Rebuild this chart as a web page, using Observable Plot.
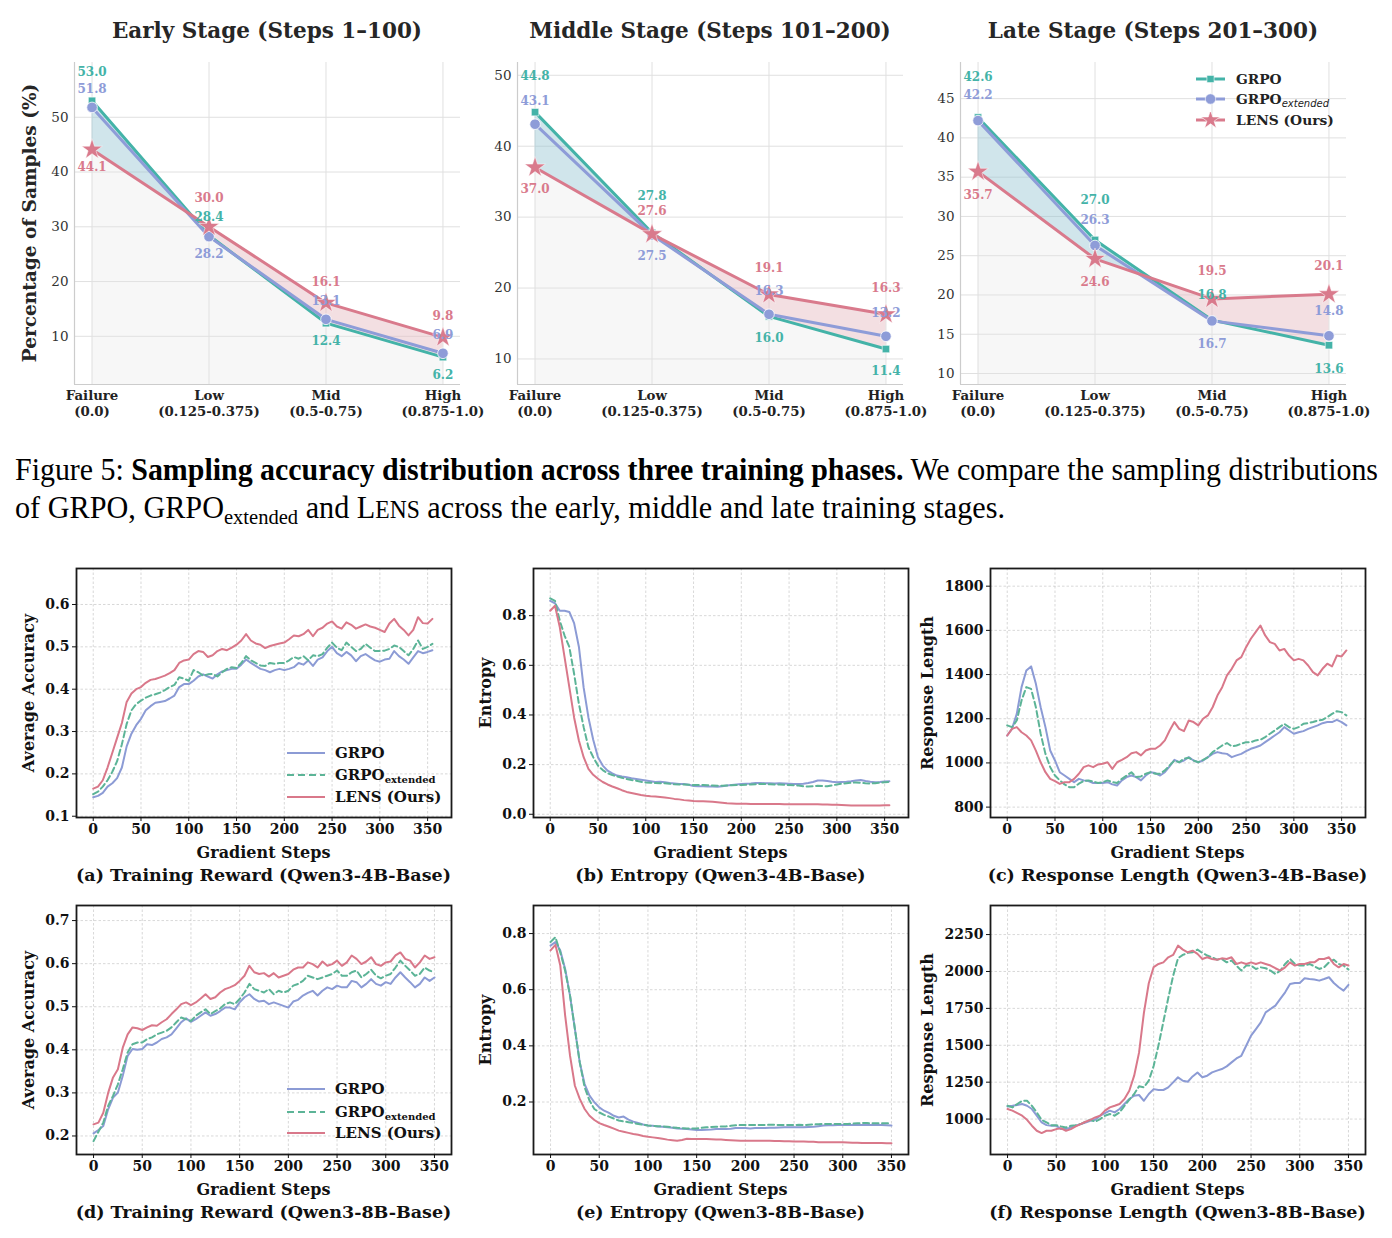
<!DOCTYPE html>
<html><head><meta charset="utf-8">
<script src="https://cdn.jsdelivr.net/npm/d3@7"></script>
<script src="https://cdn.jsdelivr.net/npm/@observablehq/plot@0.6"></script>
<style>
html,body{margin:0;padding:0;background:#fff;}
#root{position:relative;width:1392px;height:1238px;overflow:hidden;background:#fff;font-family:"DejaVu Serif",serif;}
.abs{position:absolute;white-space:nowrap;}
</style></head><body><div id="root"></div>
<script>
// ---------------- DATA ----------------
const stageCategories = ["Failure\n(0.0)", "Low\n(0.125-0.375)", "Mid\n(0.5-0.75)", "High\n(0.875-1.0)"];
const stageTitles = ["Early Stage (Steps 1–100)", "Middle Stage (Steps 101–200)", "Late Stage (Steps 201–300)"];
const earlyGrpo = [53.0, 28.4, 12.4, 6.2];
const earlyExt = [51.8, 28.2, 13.1, 6.9];
const earlyLens = [44.1, 30.0, 16.1, 9.8];
const middleGrpo = [44.8, 27.8, 16.0, 11.4];
const middleExt = [43.1, 27.5, 16.3, 13.2];
const middleLens = [37.0, 27.6, 19.1, 16.3];
const lateGrpo = [42.6, 27.0, 16.8, 13.6];
const lateExt = [42.2, 26.3, 16.7, 14.8];
const lateLens = [35.7, 24.6, 19.5, 20.1];
const earlyTicks = [10, 20, 30, 40, 50];
const middleTicks = [10, 20, 30, 40, 50];
const lateTicks = [10, 15, 20, 25, 30, 35, 40, 45];

const steps4B = [0,5,10,15,20,25,30,35,40,45,50,55,60,65,70,75,80,85,90,95,100,105,110,115,120,125,130,135,140,145,150,155,160,165,170,175,180,185,190,195,200,205,210,215,220,225,230,235,240,245,250,255,260,265,270,275,280,285,290,295,300,305,310,315,320,325,330,335,340,345,350,355];
const steps8B = [0,5,10,15,20,25,30,35,40,45,50,55,60,65,70,75,80,85,90,95,100,105,110,115,120,125,130,135,140,145,150,155,160,165,170,175,180,185,190,195,200,205,210,215,220,225,230,235,240,245,250,255,260,265,270,275,280,285,290,295,300,305,310,315,320,325,330,335,340,345,350];
const stepTicks = [0, 50, 100, 150, 200, 250, 300, 350];

// (a) Training reward, Qwen3-4B-Base
const reward4BGrpo = [0.145,0.148,0.155,0.170,0.178,0.190,0.215,0.265,0.295,0.315, 0.330,0.350,0.360,0.368,0.370,0.372,0.378,0.385,0.405,0.412, 0.412,0.420,0.430,0.435,0.430,0.425,0.435,0.442,0.445,0.448, 0.448,0.458,0.470,0.462,0.455,0.448,0.445,0.440,0.445,0.448, 0.445,0.448,0.452,0.462,0.458,0.468,0.455,0.470,0.475,0.490, 0.500,0.485,0.478,0.488,0.480,0.466,0.478,0.483,0.475,0.468, 0.465,0.470,0.472,0.490,0.478,0.470,0.460,0.475,0.490,0.485, 0.488,0.492];
const reward4BExt = [0.152,0.158,0.170,0.185,0.205,0.230,0.270,0.318,0.350,0.365, 0.373,0.380,0.385,0.388,0.392,0.398,0.405,0.410,0.428,0.425, 0.420,0.445,0.440,0.432,0.435,0.436,0.430,0.440,0.448,0.452, 0.450,0.462,0.478,0.468,0.462,0.456,0.455,0.462,0.460,0.462, 0.462,0.468,0.476,0.472,0.478,0.468,0.480,0.478,0.483,0.498, 0.510,0.498,0.492,0.510,0.500,0.490,0.495,0.507,0.498,0.490, 0.490,0.491,0.495,0.503,0.500,0.490,0.480,0.495,0.515,0.495, 0.500,0.507];
const reward4BLens = [0.165,0.170,0.185,0.215,0.250,0.285,0.320,0.370,0.390,0.400, 0.405,0.415,0.422,0.424,0.428,0.432,0.438,0.445,0.462,0.468, 0.470,0.483,0.490,0.488,0.476,0.480,0.490,0.495,0.492,0.498, 0.505,0.515,0.530,0.515,0.508,0.505,0.497,0.502,0.505,0.508, 0.510,0.518,0.527,0.525,0.530,0.540,0.525,0.540,0.545,0.555, 0.560,0.548,0.543,0.558,0.552,0.543,0.548,0.553,0.548,0.545, 0.540,0.535,0.555,0.566,0.550,0.540,0.527,0.540,0.570,0.556, 0.555,0.566];

// (b) Entropy, Qwen3-4B-Base
const entropy4BGrpo = [0.860,0.850,0.820,0.820,0.815,0.770,0.675,0.510,0.390,0.300, 0.230,0.196,0.176,0.165,0.156,0.152,0.149,0.145,0.142,0.139, 0.136,0.133,0.130,0.131,0.129,0.126,0.124,0.122,0.122,0.119, 0.114,0.113,0.113,0.112,0.112,0.111,0.113,0.116,0.118,0.120, 0.122,0.123,0.124,0.126,0.126,0.125,0.125,0.124,0.125,0.124, 0.123,0.122,0.122,0.123,0.126,0.130,0.136,0.136,0.134,0.131, 0.129,0.130,0.131,0.133,0.136,0.138,0.134,0.131,0.129,0.130, 0.132,0.133];
const entropy4BExt = [0.870,0.860,0.780,0.720,0.674,0.566,0.445,0.351,0.270,0.230, 0.196,0.178,0.165,0.158,0.152,0.147,0.142,0.138,0.135,0.131, 0.128,0.127,0.126,0.125,0.125,0.123,0.121,0.120,0.120,0.119, 0.118,0.118,0.118,0.117,0.116,0.115,0.115,0.116,0.117,0.118, 0.118,0.119,0.120,0.121,0.122,0.122,0.121,0.120,0.120,0.119, 0.118,0.117,0.116,0.113,0.112,0.113,0.115,0.114,0.113,0.116, 0.120,0.123,0.125,0.127,0.128,0.127,0.125,0.124,0.125,0.127, 0.129,0.130];
const entropy4BLens = [0.820,0.840,0.754,0.633,0.512,0.390,0.297,0.230,0.183,0.159, 0.143,0.130,0.120,0.112,0.105,0.097,0.090,0.086,0.082,0.078, 0.075,0.073,0.072,0.070,0.068,0.065,0.062,0.060,0.057,0.055, 0.053,0.052,0.052,0.051,0.050,0.048,0.046,0.044,0.043,0.042, 0.042,0.042,0.041,0.041,0.041,0.041,0.041,0.041,0.041,0.040, 0.040,0.040,0.040,0.040,0.040,0.040,0.040,0.039,0.039,0.038, 0.038,0.037,0.036,0.035,0.035,0.035,0.035,0.035,0.035,0.035, 0.036,0.036];

// (c) Response length, Qwen3-4B-Base
const length4BGrpo = [1124,1154,1222,1343,1418,1437,1358,1252,1162,1056, 1011,958,943,928,913,928,921,918,909,909, 909,913,903,898,921,936,943,936,921,943, 958,954,943,958,984,1014,1003,1011,1026,1011, 1003,1011,1026,1041,1049,1044,1041,1026,1034,1041, 1053,1064,1071,1079,1094,1109,1124,1139,1162,1147, 1132,1139,1144,1154,1162,1170,1180,1185,1185,1195, 1185,1170];
const length4BExt = [1170,1162,1192,1283,1343,1335,1252,1132,1041,981, 943,921,903,890,890,906,918,921,916,909, 913,921,913,909,928,943,958,936,939,951, 958,951,951,966,989,1011,1003,1019,1023,1011, 1003,1014,1026,1049,1064,1079,1090,1075,1079,1087, 1094,1094,1102,1105,1117,1132,1147,1162,1177,1162, 1154,1162,1177,1180,1185,1192,1195,1207,1222,1234, 1230,1215];
const length4BLens = [1124,1154,1162,1139,1124,1102,1056,1003,958,928, 918,905,913,913,928,951,981,989,981,993, 996,1003,973,1003,1014,1026,1044,1049,1034,1056, 1064,1064,1079,1102,1147,1185,1154,1144,1192,1185, 1170,1200,1215,1252,1305,1343,1396,1426,1464,1479, 1524,1562,1592,1622,1577,1547,1539,1509,1516,1486, 1464,1471,1464,1441,1411,1396,1426,1449,1437,1486, 1482,1509];

// (d) Training reward, Qwen3-8B-Base
const reward8BGrpo = [0.206,0.214,0.223,0.262,0.289,0.301,0.340,0.386,0.402,0.400, 0.402,0.413,0.411,0.417,0.425,0.429,0.436,0.450,0.464,0.473, 0.465,0.471,0.479,0.487,0.479,0.483,0.490,0.498,0.498,0.494, 0.510,0.522,0.529,0.518,0.512,0.514,0.506,0.510,0.506,0.502, 0.498,0.512,0.516,0.526,0.532,0.537,0.526,0.537,0.545,0.541, 0.549,0.545,0.545,0.560,0.557,0.545,0.553,0.564,0.553,0.549, 0.557,0.553,0.568,0.580,0.568,0.557,0.545,0.553,0.568,0.560, 0.568];
const reward8BExt = [0.188,0.210,0.231,0.270,0.293,0.320,0.355,0.394,0.413,0.417, 0.417,0.425,0.429,0.436,0.440,0.444,0.452,0.464,0.475,0.471, 0.467,0.479,0.487,0.494,0.483,0.490,0.496,0.506,0.510,0.506, 0.518,0.533,0.553,0.541,0.537,0.533,0.541,0.529,0.537,0.533, 0.537,0.549,0.553,0.560,0.572,0.568,0.564,0.568,0.572,0.576, 0.584,0.572,0.572,0.580,0.584,0.568,0.576,0.586,0.572,0.566, 0.572,0.576,0.591,0.607,0.595,0.584,0.572,0.576,0.591,0.584, 0.580];
const reward8BLens = [0.227,0.231,0.254,0.300,0.336,0.355,0.405,0.436,0.452,0.450, 0.446,0.452,0.457,0.456,0.464,0.471,0.483,0.494,0.506,0.510, 0.504,0.510,0.519,0.529,0.518,0.522,0.533,0.541,0.545,0.550, 0.560,0.572,0.595,0.580,0.576,0.578,0.570,0.578,0.568,0.572, 0.576,0.586,0.591,0.591,0.603,0.599,0.591,0.605,0.595,0.599, 0.607,0.595,0.603,0.619,0.611,0.599,0.605,0.615,0.599,0.595, 0.603,0.605,0.619,0.626,0.611,0.607,0.591,0.603,0.619,0.611, 0.615];

// (e) Entropy, Qwen3-8B-Base
const entropy8BGrpo = [0.757,0.770,0.740,0.674,0.579,0.460,0.341,0.264,0.223,0.199, 0.181,0.169,0.161,0.151,0.145,0.148,0.137,0.130,0.125,0.120, 0.116,0.115,0.113,0.112,0.110,0.108,0.106,0.105,0.104,0.102, 0.100,0.100,0.101,0.102,0.104,0.104,0.104,0.105,0.107,0.107, 0.107,0.106,0.107,0.107,0.107,0.108,0.108,0.109,0.110,0.110, 0.110,0.110,0.110,0.111,0.112,0.114,0.116,0.117,0.117,0.118, 0.118,0.118,0.118,0.118,0.118,0.118,0.118,0.118,0.118,0.117, 0.116];
const entropy8BExt = [0.770,0.787,0.733,0.668,0.579,0.460,0.341,0.252,0.205,0.175, 0.163,0.154,0.148,0.141,0.134,0.131,0.128,0.125,0.122,0.119, 0.116,0.115,0.114,0.113,0.112,0.110,0.108,0.107,0.106,0.106, 0.106,0.108,0.110,0.111,0.112,0.113,0.113,0.115,0.117,0.118, 0.118,0.118,0.118,0.118,0.118,0.119,0.119,0.118,0.118,0.118, 0.118,0.119,0.118,0.119,0.120,0.121,0.122,0.122,0.122,0.122, 0.122,0.122,0.123,0.124,0.125,0.125,0.124,0.124,0.124,0.124, 0.124];
const entropy8BLens = [0.740,0.760,0.686,0.508,0.365,0.258,0.211,0.175,0.151,0.136, 0.125,0.118,0.112,0.105,0.098,0.094,0.090,0.086,0.083,0.079, 0.076,0.074,0.072,0.069,0.066,0.064,0.062,0.065,0.069,0.068, 0.068,0.068,0.068,0.067,0.066,0.066,0.065,0.064,0.063,0.062, 0.062,0.062,0.062,0.062,0.062,0.062,0.061,0.061,0.060,0.060, 0.059,0.059,0.059,0.058,0.058,0.057,0.057,0.057,0.057,0.057, 0.057,0.056,0.055,0.055,0.054,0.054,0.054,0.054,0.054,0.053, 0.053];

// (f) Response length, Qwen3-8B-Base
const length8BGrpo = [1086,1090,1095,1102,1090,1068,1023,977,959,955, 955,932,932,943,955,966,977,989,995,1023, 1041,1057,1045,1068,1102,1136,1158,1163,1124,1170, 1203,1197,1197,1215,1249,1283,1260,1253,1289,1316, 1283,1294,1316,1328,1339,1357,1384,1411,1429,1497, 1565,1610,1655,1723,1746,1769,1814,1859,1915,1922, 1922,1954,1949,1945,1938,1949,1961,1922,1893,1870, 1909];
const length8BExt = [1090,1079,1102,1124,1124,1090,1045,995,977,959, 959,950,943,955,959,966,982,995,982,1000, 1023,1034,1023,1045,1090,1131,1170,1222,1215,1260, 1360,1500,1660,1820,1970,2090,2112,2126,2130,2148, 2126,2108,2096,2080,2085,2062,2074,2040,2006,2040, 2040,2017,2028,2022,2006,1983,2006,2051,2085,2051, 2040,2040,2051,2035,2017,2028,2062,2080,2051,2040, 2013];
const length8BLens = [1068,1057,1041,1023,995,955,921,905,921,921, 932,937,921,932,950,966,982,995,1011,1023, 1057,1079,1090,1102,1136,1192,1294,1450,1720,1920, 2030,2051,2062,2096,2112,2175,2148,2130,2141,2119, 2085,2096,2085,2080,2089,2085,2096,2051,2062,2051, 2062,2051,2062,2051,2040,2022,2006,2028,2062,2040, 2051,2051,2062,2062,2085,2085,2096,2051,2028,2051, 2040];

// ---------------- STYLE ----------------
const C = {grpo: "#44b3a8", ext: "#8e9cd8", lens: "#d97a8c"};
const T = {grpo: "#8c9bd5", ext: "#5cb497", lens: "#d9788a"};
const SERIF = "'DejaVu Serif', serif";
const root = document.getElementById("root");

function addText(html, x, y, style, mode) {
  const d = document.createElement("div");
  d.className = "abs";
  d.innerHTML = html;
  d.style.left = x + "px"; d.style.top = y + "px";
  Object.assign(d.style, style || {});
  if (mode === "center") d.style.transform = "translate(-50%,-50%)";
  else if (mode === "rot") d.style.transform = "translate(-50%,-50%) rotate(-90deg)";
  else if (mode === "left") d.style.transform = "translate(0,-50%)";
  root.appendChild(d);
  return d;
}
function place(svg, x, y) {
  svg.style.position = "absolute";
  svg.style.left = x + "px";
  svg.style.top = y + "px";
  root.appendChild(svg);
}

// ---------------- TOP: stage panels ----------------
const stageLefts = [74, 517, 960];
function stagePlot(k, grpo, ext, lens, yTicks) {
  const ML = 70, MT = 10, MR = 45, MB = 50, W = 386, H = 322;
  const all = grpo.concat(ext, lens);
  const y0 = d3.min(all) - 5, y1 = d3.max(all) + 7;
  const idx = [0, 1, 2, 3];
  const pts = idx.map(i => ({x: i, g: grpo[i], e: ext[i], l: lens[i]}));
  const aug = [];
  for (let i = 0; i < 4; i++) {
    aug.push({x: i, g: grpo[i], l: lens[i]});
    if (i < 3) {
      const d0 = grpo[i] - lens[i], d1 = grpo[i + 1] - lens[i + 1];
      if (d0 * d1 < 0) {
        const t = d0 / (d0 - d1);
        const yv = lens[i] + t * (lens[i + 1] - lens[i]);
        aug.push({x: i + t, g: yv, l: yv});
      }
    }
  }
  const labels = [];
  idx.forEach(i => {
    const s = [{v: grpo[i], c: C.grpo}, {v: ext[i], c: C.ext}, {v: lens[i], c: C.lens}].sort((a, b) => b.v - a.v);
    labels.push({x: i, y: s[0].v + (s[0].v - s[1].v < 2 ? 4.6 : 3.1), t: s[0].v, c: s[0].c, a: "bottom"});
    labels.push({x: i, y: s[1].v + 2.7, t: s[1].v, c: s[1].c, a: "bottom"});
    labels.push({x: i, y: s[2].v - 2.4, t: s[2].v, c: s[2].c, a: "top"});
  });
  const svg = Plot.plot({
    width: W + ML + MR, height: H + MT + MB,
    marginLeft: ML, marginRight: MR, marginTop: MT, marginBottom: MB,
    style: {background: "transparent", fontFamily: SERIF, color: "#333", overflow: "visible"},
    x: {domain: [-0.15, 3.15]},
    y: {domain: [y0, y1]},
    color: {type: "identity"},
    marks: [
      Plot.gridY(yTicks, {stroke: "#e0e0e0", strokeOpacity: 1, strokeWidth: 1}),
      Plot.gridX(idx, {stroke: "#e0e0e0", strokeOpacity: 1, strokeWidth: 1}),
      Plot.areaY(pts, {x: "x", y1: () => y0, y2: "l", fill: "#e4e4e6", fillOpacity: 0.3}),
      Plot.areaY(aug, {x: "x", y1: "l", y2: d => Math.max(d.g, d.l), fill: "#8fc0d0", fillOpacity: 0.42}),
      Plot.areaY(aug, {x: "x", y1: "g", y2: d => Math.max(d.g, d.l), fill: "#e8a0ae", fillOpacity: 0.28}),
      Plot.ruleX([-0.15], {stroke: "#cccccc", strokeWidth: 1.2}),
      Plot.ruleY([y0], {stroke: "#cccccc", strokeWidth: 1.2}),
      Plot.line(pts, {x: "x", y: "g", stroke: C.grpo, strokeWidth: 3}),
      Plot.dot(pts, {x: "x", y: "g", symbol: "square", r: 4.2, fill: C.grpo, stroke: "white", strokeWidth: 0.6}),
      Plot.line(pts, {x: "x", y: "e", stroke: C.ext, strokeWidth: 3}),
      Plot.dot(pts, {x: "x", y: "e", symbol: "circle", r: 5.3, fill: C.ext, stroke: "white", strokeWidth: 0.8}),
      Plot.line(pts, {x: "x", y: "l", stroke: C.lens, strokeWidth: 3}),
      Plot.dot(pts, {x: "x", y: "l", symbol: "star", r: 6.5, fill: C.lens, stroke: "white", strokeWidth: 0.5}),
      Plot.text(labels.filter(d => d.a === "bottom"), {x: "x", y: "y", text: d => d.t.toFixed(1), fill: "c", lineAnchor: "bottom", fontSize: 12, fontWeight: "bold"}),
      Plot.text(labels.filter(d => d.a === "top"), {x: "x", y: "y", text: d => d.t.toFixed(1), fill: "c", lineAnchor: "top", fontSize: 12, fontWeight: "bold"}),
      Plot.axisY(yTicks, {tickSize: 0, tickPadding: 6, fontSize: 13.5, fill: "#333", label: null}),
      Plot.axisX(idx, {tickSize: 0, tickPadding: 5, fontSize: 13.3, fontWeight: "bold", fill: "#222", label: null, lineHeight: 1.15, tickFormat: i => stageCategories[i]})
    ]
  });
  place(svg, stageLefts[k] - ML, 62 - MT);
  addText(stageTitles[k], stageLefts[k] + W / 2, 30, {font: "bold 21.5px " + SERIF, color: "#262626"}, "center");
}
stagePlot(0, earlyGrpo, earlyExt, earlyLens, earlyTicks);
stagePlot(1, middleGrpo, middleExt, middleLens, middleTicks);
stagePlot(2, lateGrpo, lateExt, lateLens, lateTicks);
addText("Percentage of Samples (%)", 29, 223, {font: "bold 18.5px " + SERIF, color: "#262626"}, "rot");

// top legend
function topSwatch(color, sym, size) {
  const p = d3.symbol(sym, size)();
  return `<svg width="31" height="16" style="display:block"><line x1="1" y1="8" x2="30" y2="8" stroke="${color}" stroke-width="3"/><path transform="translate(15.5,8)" d="${p}" fill="${color}" stroke="white" stroke-width="0.6"/></svg>`;
}
const topLeg = [
  {sw: topSwatch(C.grpo, d3.symbolSquare, 52), txt: "GRPO", y: 79},
  {sw: topSwatch(C.ext, d3.symbolCircle, 85), txt: 'GRPO<span style="font:italic 10px \'DejaVu Sans\',sans-serif;position:relative;top:3px">extended</span>', y: 99},
  {sw: topSwatch(C.lens, d3.symbolStar, 110), txt: "LENS (Ours)", y: 120}
];
topLeg.forEach(d => {
  addText(d.sw, 1195, d.y, {}, "left");
  addText(d.txt, 1236, d.y, {font: "bold 13.8px " + SERIF, color: "#222"}, "left");
});

// ---------------- CAPTION ----------------
const cap1 = addText('Figure 5: <b>Sampling accuracy distribution across three training phases.</b> We compare the sampling distributions', 15, 454, {font: "31px 'Liberation Serif', serif", lineHeight: "31px", color: "#000", transformOrigin: "0 0"});
const cap2 = addText('of GRPO, GRPO<span style="font-size:0.68em;position:relative;top:0.28em">extended</span> and L<span style="font-size:0.78em">ENS</span> across the early, middle and late training stages.', 15, 492, {font: "31px 'Liberation Serif', serif", lineHeight: "31px", color: "#000", transformOrigin: "0 0"});
cap1.style.transform = `scaleX(${1363 / cap1.getBoundingClientRect().width})`;
cap2.style.transform = `scaleX(${990 / cap2.getBoundingClientRect().width})`;

// ---------------- BOTTOM: time series ----------------
function tsPlot(p) {
  const ML = 72, MT = 10, MR = 16, MB = 34;
  const W = p.r - p.l, H = p.b - p.t;
  const mk = ys => p.steps.map((x, i) => ({x, y: ys[i]})).filter(d => d.y != null);
  const grid = {stroke: "#b5b5b5", strokeOpacity: 0.75, strokeDasharray: "2.5,2", strokeWidth: 0.7};
  const svg = Plot.plot({
    width: W + ML + MR, height: H + MT + MB,
    marginLeft: ML, marginRight: MR, marginTop: MT, marginBottom: MB,
    style: {background: "transparent", fontFamily: SERIF, color: "#111", overflow: "visible"},
    x: {domain: p.xDomain},
    y: {domain: p.yDomain},
    marks: [
      Plot.gridX(stepTicks, grid),
      Plot.gridY(p.yTicks, grid),
      Plot.line(mk(p.grpo), {x: "x", y: "y", stroke: T.grpo, strokeWidth: 2, strokeLinejoin: "round"}),
      Plot.line(mk(p.ext), {x: "x", y: "y", stroke: T.ext, strokeWidth: 2, strokeDasharray: "6,3.5"}),
      Plot.line(mk(p.lens), {x: "x", y: "y", stroke: T.lens, strokeWidth: 2, strokeLinejoin: "round"}),
      Plot.frame({stroke: "#1a1a1a", strokeWidth: 1.8}),
      Plot.axisX(stepTicks, {tickSize: 4, tickPadding: 3, fontSize: 14, fontWeight: "bold", label: null, tickFormat: d => String(d)}),
      Plot.axisY(p.yTicks, {tickSize: 4, tickPadding: 3, fontSize: 14, fontWeight: "bold", label: null, tickFormat: p.fmt})
    ]
  });
  place(svg, p.l - ML, p.t - MT);
  const cx = (p.l + p.r) / 2;
  addText(p.ylabel, p.ylx, (p.t + p.b) / 2, {font: "bold 16px " + SERIF, color: "#111"}, "rot");
  addText("Gradient Steps", cx, p.b + 35, {font: "bold 16px " + SERIF, color: "#111"}, "center");
  addText(p.caption, cx, p.b + 58, {font: "bold 17.5px " + SERIF, color: "#111"}, "center");
}
const f1 = d => d.toFixed(1), fi = d => String(d);
tsPlot({l: 76, r: 451, t: 568, b: 817, steps: steps4B, xDomain: [-17.5, 375], yDomain: [0.097, 0.685], yTicks: [0.1, 0.2, 0.3, 0.4, 0.5, 0.6], fmt: f1,
  grpo: reward4BGrpo, ext: reward4BExt, lens: reward4BLens, ylabel: "Average Accuracy", ylx: 28, caption: "(a) Training Reward (Qwen3-4B-Base)"});
tsPlot({l: 533, r: 908, t: 568, b: 817, steps: steps4B, xDomain: [-17.5, 375], yDomain: [-0.013, 0.99], yTicks: [0, 0.2, 0.4, 0.6, 0.8], fmt: f1,
  grpo: entropy4BGrpo, ext: entropy4BExt, lens: entropy4BLens, ylabel: "Entropy", ylx: 485, caption: "(b) Entropy (Qwen3-4B-Base)"});
tsPlot({l: 990, r: 1365, t: 568, b: 817, steps: steps4B, xDomain: [-17.5, 375], yDomain: [753, 1880], yTicks: [800, 1000, 1200, 1400, 1600, 1800], fmt: fi,
  grpo: length4BGrpo, ext: length4BExt, lens: length4BLens, ylabel: "Response Length", ylx: 927, caption: "(c) Response Length (Qwen3-4B-Base)"});
tsPlot({l: 76, r: 451, t: 905, b: 1154, steps: steps8B, xDomain: [-17.5, 367.5], yDomain: [0.157, 0.735], yTicks: [0.2, 0.3, 0.4, 0.5, 0.6, 0.7], fmt: f1,
  grpo: reward8BGrpo, ext: reward8BExt, lens: reward8BLens, ylabel: "Average Accuracy", ylx: 28, caption: "(d) Training Reward (Qwen3-8B-Base)"});
tsPlot({l: 533, r: 908, t: 905, b: 1154, steps: steps8B, xDomain: [-17.5, 367.5], yDomain: [0.013, 0.9], yTicks: [0.2, 0.4, 0.6, 0.8], fmt: f1,
  grpo: entropy8BGrpo, ext: entropy8BExt, lens: entropy8BLens, ylabel: "Entropy", ylx: 485, caption: "(e) Entropy (Qwen3-8B-Base)"});
tsPlot({l: 990, r: 1365, t: 905, b: 1154, steps: steps8B, xDomain: [-17.5, 367.5], yDomain: [760, 2447], yTicks: [1000, 1250, 1500, 1750, 2000, 2250], fmt: fi,
  grpo: length8BGrpo, ext: length8BExt, lens: length8BLens, ylabel: "Response Length", ylx: 927, caption: "(f) Response Length (Qwen3-8B-Base)"});

// bottom legends (panels a and d)
function lineSwatch(color, dash) {
  return `<svg width="38" height="10" style="display:block"><line x1="0" y1="5" x2="38" y2="5" stroke="${color}" stroke-width="2.2" ${dash ? 'stroke-dasharray="' + dash + '"' : ""}/></svg>`;
}
[[753, 775, 797], [1089, 1112, 1133]].forEach(rows => {
  const items = [
    {sw: lineSwatch(T.grpo), txt: "GRPO"},
    {sw: lineSwatch(T.ext, "7,4"), txt: 'GRPO<span style="font-size:10px;position:relative;top:3px">extended</span>'},
    {sw: lineSwatch(T.lens), txt: "LENS (Ours)"}
  ];
  items.forEach((d, i) => {
    addText(d.sw, 287, rows[i], {}, "left");
    addText(d.txt, 335, rows[i], {font: "bold 15px " + SERIF, color: "#111"}, "left");
  });
});
</script>
</body></html>
